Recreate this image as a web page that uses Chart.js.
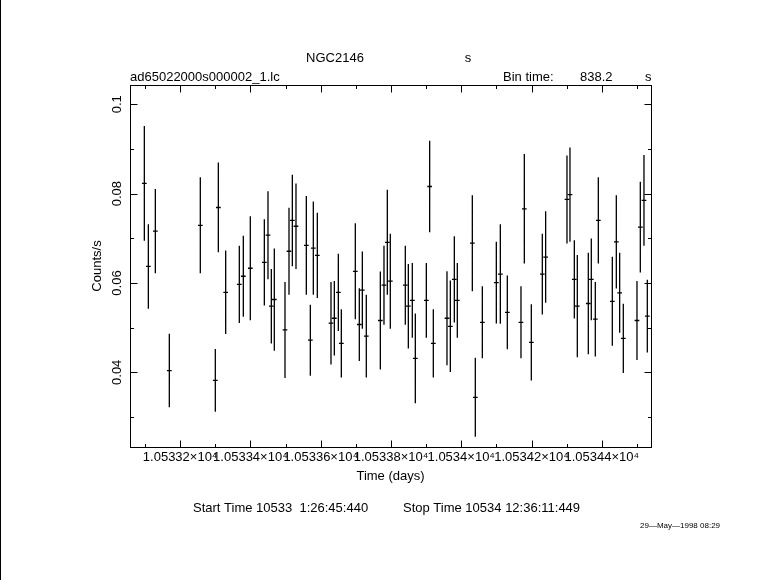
<!DOCTYPE html>
<html>
<head>
<meta charset="utf-8">
<title>NGC2146 light curve</title>
<script src="https://cdn.jsdelivr.net/npm/chart.js@4.4.0/dist/chart.umd.min.js"></script>
<style>
  html, body { margin: 0; padding: 0; background: #fff; }
  #wrap { width: 781px; height: 580px; position: relative; }
</style>
</head>
<body>
<div id="wrap"><canvas id="lc" width="781" height="580"></canvas></div>
<script>
"use strict";

// bin centres (days), count rates and 1-sigma errors
const times = [
  10533.0981, 10533.1095, 10533.1294, 10533.1692, 10533.2574, 10533.3001,
  10533.3087, 10533.3296, 10533.3684, 10533.3798, 10533.3997, 10533.4396,
  10533.4500, 10533.4595, 10533.4680, 10533.4984, 10533.5098, 10533.5193,
  10533.5297, 10533.5591, 10533.5705, 10533.5790, 10533.5904, 10533.6293,
  10533.6388, 10533.6502, 10533.6587, 10533.6985, 10533.7099, 10533.7185,
  10533.7298, 10533.7697, 10533.7801, 10533.7896, 10533.7981, 10533.8408,
  10533.8494, 10533.8607, 10533.8693, 10533.9006, 10533.9101, 10533.9205,
  10533.9594, 10533.9689, 10533.9803, 10533.9888, 10534.0315, 10534.0400,
  10534.0600, 10534.0998, 10534.1112, 10534.1311, 10534.1700, 10534.1795,
  10534.1994, 10534.2307, 10534.2402, 10534.3009, 10534.3094, 10534.3218,
  10534.3303, 10534.3616, 10534.3701, 10534.3815, 10534.3901, 10534.4299,
  10534.4413, 10534.4508, 10534.4612, 10534.5001, 10534.5096, 10534.5200,
  10534.5295
];
const rates = [
  0.0823, 0.0637, 0.0716, 0.0404, 0.0729, 0.0382,
  0.0769, 0.0579, 0.0597, 0.0615, 0.0633, 0.0646,
  0.0707, 0.0548, 0.0563, 0.0495, 0.0671, 0.0740,
  0.0727, 0.0684, 0.0472, 0.0678, 0.0662, 0.0510,
  0.0521, 0.0579, 0.0465, 0.0626, 0.0507, 0.0584,
  0.0481, 0.0516, 0.0595, 0.0691, 0.0604, 0.0595,
  0.0548, 0.0561, 0.0431, 0.0561, 0.0816, 0.0465,
  0.0521, 0.0503, 0.0608, 0.0561, 0.0689, 0.0344,
  0.0512, 0.0601, 0.0620, 0.0534, 0.0512, 0.0766,
  0.0467, 0.0620, 0.0658, 0.0787, 0.0798, 0.0608,
  0.0548, 0.0554, 0.0608, 0.0519, 0.0740, 0.0559,
  0.0692, 0.0578, 0.0476, 0.0516, 0.0725, 0.0785,
  0.0526
];
const errors = [
  0.0127, 0.0093, 0.0093, 0.0081, 0.0106, 0.0069,
  0.0099, 0.0092, 0.0085, 0.0089, 0.0115, 0.0095,
  0.0097, 0.0082, 0.0113, 0.0106, 0.0096, 0.0101,
  0.0094, 0.0109, 0.0078, 0.0103, 0.0094, 0.0091,
  0.0082, 0.0085, 0.0075, 0.0106, 0.0080, 0.0085,
  0.0091, 0.0108, 0.0087, 0.0116, 0.0105, 0.0087,
  0.0093, 0.0082, 0.0099, 0.0082, 0.0101, 0.0075,
  0.0104, 0.0101, 0.0095, 0.0082, 0.0106, 0.0087,
  0.0079, 0.0090, 0.0110, 0.0081, 0.0079, 0.0121,
  0.0084, 0.0089, 0.0101, 0.0097, 0.0104, 0.0086,
  0.0113, 0.0112, 0.0090, 0.0082, 0.0095, 0.0098,
  0.0103, 0.0088, 0.0076, 0.0087, 0.0100, 0.0100,
  0.0080
];

const binTime = 838.2;  // seconds

const xTickValues = [10533.2, 10533.4, 10533.6, 10533.8, 10534.0, 10534.2, 10534.4];
const xTickLabels = ["1.05332×10⁴", "1.05334×10⁴", "1.05336×10⁴", "1.05338×10⁴",
                     "1.0534×10⁴", "1.05342×10⁴", "1.05344×10⁴"];
const xMinorTicks = [10533.1, 10533.3, 10533.5, 10533.7, 10533.9, 10534.1, 10534.3, 10534.5];
const yTickValues = [0.04, 0.06, 0.08, 0.1];
const yTickLabels = ["0.04", "0.06", "0.08", "0.1"];
const yMinorTicks = [0.03, 0.05, 0.07, 0.09];

const xRange = [10533.0573, 10534.5400];
const yRange = [0.02328, 0.10432];

const FONT = "'Liberation Sans', Helvetica, Arial, sans-serif";

// vertical error bars, one segment per bin, broken by null points
function errorSegments() {
  const pts = [];
  for (let i = 0; i < times.length; i++) {
    pts.push({x: times[i], y: rates[i] - errors[i]});
    pts.push({x: times[i], y: rates[i] + errors[i]});
    pts.push({x: times[i], y: null});
  }
  return pts;
}

// horizontal bars showing the bin width
function binSegments() {
  const half = binTime / 86400 / 2;
  const pts = [];
  for (let i = 0; i < times.length; i++) {
    pts.push({x: times[i] - half, y: rates[i]});
    pts.push({x: times[i] + half, y: rates[i]});
    pts.push({x: times[i], y: null});
  }
  return pts;
}

const framePlugin = {
  id: 'frame',
  afterDatasetsDraw(chart) {
    const {ctx, chartArea: a, scales} = chart;
    const major = 7, minor = 3.5;
    ctx.save();
    ctx.strokeStyle = '#000';
    ctx.lineWidth = 1;
    ctx.strokeRect(a.left + 0.5, a.top + 0.5, a.right - a.left, a.bottom - a.top);
    ctx.beginPath();
    function xTick(v, len) {
      const px = Math.round(scales.x.getPixelForValue(v)) + 0.5;
      ctx.moveTo(px, a.bottom + 0.5); ctx.lineTo(px, a.bottom + 0.5 - len);
      ctx.moveTo(px, a.top + 0.5); ctx.lineTo(px, a.top + 0.5 + len);
    }
    function yTick(v, len) {
      const py = Math.round(scales.y.getPixelForValue(v)) + 0.5;
      ctx.moveTo(a.left + 0.5, py); ctx.lineTo(a.left + 0.5 + len, py);
      ctx.moveTo(a.right + 0.5, py); ctx.lineTo(a.right + 0.5 - len, py);
    }
    xTickValues.forEach(v => xTick(v, major));
    xMinorTicks.forEach(v => xTick(v, minor));
    yTickValues.forEach(v => yTick(v, major));
    yMinorTicks.forEach(v => yTick(v, minor));
    ctx.stroke();
    ctx.restore();
  }
};

const textPlugin = {
  id: 'labels',
  afterDraw(chart) {
    const ctx = chart.ctx;
    ctx.save();
    ctx.fillStyle = '#000';
    ctx.textBaseline = 'middle';
    ctx.font = "13px " + FONT;
    ctx.textAlign = 'center';
    ctx.fillText("NGC2146", 335, 58);
    ctx.fillText("s", 468, 58);
    ctx.textAlign = 'left';
    ctx.fillText("ad65022000s000002_1.lc", 130, 77);
    ctx.fillText("Bin time:", 503, 77);
    ctx.fillText("838.2", 580, 77);
    ctx.fillText("s", 645, 77);
    ctx.fillText("Start Time 10533  1:26:45:440", 193, 508);
    ctx.fillText("Stop Time 10534 12:36:11:449", 403, 508);
    ctx.font = "8px " + FONT;
    ctx.fillText("29\u2014May\u20141998 08:29", 640, 526);
    // border line at the left edge of the page
    ctx.fillRect(0, 0, 1, chart.height);
    ctx.restore();
  }
};

Chart.defaults.font.family = FONT;
Chart.defaults.font.size = 13;
Chart.defaults.color = '#000';

const lineStyle = {
  showLine: true,
  spanGaps: false,
  borderColor: '#000',
  borderWidth: 1.3,
  borderCapStyle: 'square',
  pointRadius: 0,
  pointHoverRadius: 0
};

new Chart(document.getElementById('lc'), {
  type: 'scatter',
  data: {
    datasets: [
      Object.assign({label: 'error', data: errorSegments()}, lineStyle),
      Object.assign({label: 'bin', data: binSegments()}, lineStyle)
    ]
  },
  options: {
    responsive: false,
    animation: false,
    devicePixelRatio: 1,
    layout: { padding: { top: 85, right: 130, left: 0, bottom: 0 } },
    plugins: {
      legend: { display: false },
      tooltip: { enabled: false }
    },
    scales: {
      x: {
        type: 'linear',
        min: xRange[0],
        max: xRange[1],
        grid: { display: false, drawTicks: false },
        border: { display: false },
        afterBuildTicks: (scale) => {
          scale.ticks = xTickValues.map(v => ({value: v}));
        },
        afterFit: (scale) => { scale.height = 133; },
        ticks: {
          autoSkip: false,
          maxRotation: 0,
          minRotation: 0,
          padding: 3,
          callback: (value, index) => xTickLabels[index]
        },
        title: {
          display: true,
          text: 'Time (days)',
          padding: { top: 0, bottom: 96 }
        }
      },
      y: {
        type: 'linear',
        min: yRange[0],
        max: yRange[1],
        grid: { display: false, drawTicks: false },
        border: { display: false },
        afterBuildTicks: (scale) => {
          scale.ticks = yTickValues.map(v => ({value: v}));
        },
        afterFit: (scale) => { scale.width = 130; },
        ticks: {
          minRotation: 90,
          maxRotation: 90,
          crossAlign: 'center',
          padding: 0,
          callback: (value, index) => yTickLabels[index]
        },
        title: {
          display: true,
          text: 'Counts/s',
          padding: { top: 90, bottom: 0 }
        }
      }
    }
  },
  plugins: [framePlugin, textPlugin]
});
</script>
</body>
</html>
